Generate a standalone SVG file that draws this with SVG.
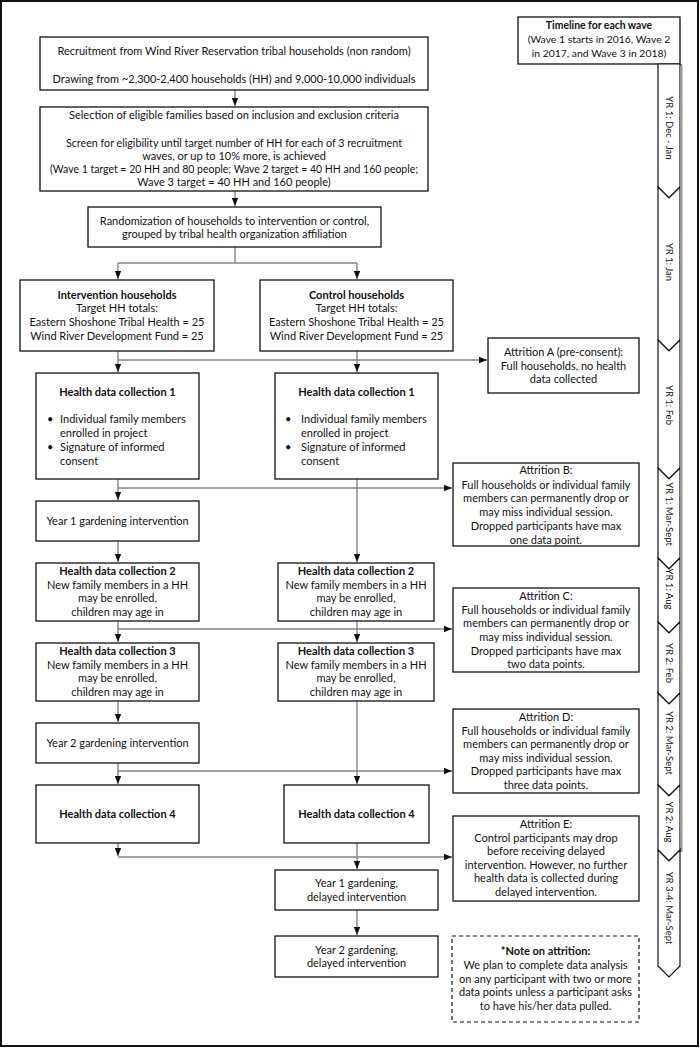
<svg xmlns="http://www.w3.org/2000/svg" width="700" height="1048" viewBox="0 0 700 1048">
<defs>
<style>
text{font-family:Lato,"Liberation Sans",sans-serif;font-size:11px;fill:#111;}
.c{text-anchor:middle;}
.b{font-weight:bold;}
.tl{font-size:10.4px;}
.rot{font-size:9.5px;}
.box{fill:#fff;stroke:#111;stroke-width:1.3;}
.dash{fill:#fff;stroke:#111;stroke-width:1.2;stroke-dasharray:4 3;}
.ln{fill:none;stroke:#858585;stroke-width:1.4;}
.chev{fill:#fff;stroke:#111;stroke-width:1.2;}
</style>
<marker id="ah" markerUnits="userSpaceOnUse" markerWidth="8" markerHeight="8" viewBox="0 0 8 8" refX="8" refY="4" orient="auto">
<path d="M0,0.8 L8,4 L0,7.2 Z" fill="#111"/>
</marker>
</defs>
<rect x="1" y="1" width="697" height="1045" fill="#fff" stroke="#111" stroke-width="2"/>

<g id="connectors">
<path class="ln" d="M235,90 V106" marker-end="url(#ah)"/>
<path class="ln" d="M235,191 V206" marker-end="url(#ah)"/>
<path class="ln" d="M235,247 V263 M118,263 H357"/>
<path class="ln" d="M118,263 V279" marker-end="url(#ah)"/>
<path class="ln" d="M357,263 V279" marker-end="url(#ah)"/>
<path class="ln" d="M118,351 V360"/>
<path class="ln" d="M118,360 H487" marker-end="url(#ah)"/>
<path class="ln" d="M118,360 V372" marker-end="url(#ah)"/>
<path class="ln" d="M357,351 V372" marker-end="url(#ah)"/>
<path class="ln" d="M118,479 V488"/>
<path class="ln" d="M118,488 H452" marker-end="url(#ah)"/>
<path class="ln" d="M118,488 V500" marker-end="url(#ah)"/>
<path class="ln" d="M357,479 V562" marker-end="url(#ah)"/>
<path class="ln" d="M118,541 V562" marker-end="url(#ah)"/>
<path class="ln" d="M118,621 V629"/>
<path class="ln" d="M118,629 H452" marker-end="url(#ah)"/>
<path class="ln" d="M118,629 V642" marker-end="url(#ah)"/>
<path class="ln" d="M357,621 V642" marker-end="url(#ah)"/>
<path class="ln" d="M118,701 V722" marker-end="url(#ah)"/>
<path class="ln" d="M118,763 V771"/>
<path class="ln" d="M118,771 H452" marker-end="url(#ah)"/>
<path class="ln" d="M118,771 V784" marker-end="url(#ah)"/>
<path class="ln" d="M357,701 V784" marker-end="url(#ah)"/>
<path class="ln" d="M118,843 V856" marker-end="url(#ah)"/>
<path class="ln" d="M118,857 H452" marker-end="url(#ah)"/>
<path class="ln" d="M357,843 V869" marker-end="url(#ah)"/>
<path class="ln" d="M357,910 V935" marker-end="url(#ah)"/>
</g>

<g id="recruitment">
<rect class="box" x="40" y="37" width="388" height="53"/>
<text class="c" x="234" y="55">Recruitment from Wind River Reservation tribal households (non random)</text>
<text class="c" x="234" y="83">Drawing from ~2,300-2,400 households (HH) and 9,000-10,000 individuals</text>
</g>

<g id="selection">
<rect class="box" x="40" y="107" width="388" height="84"/>
<text class="c" x="234" y="119">Selection of eligible families based on inclusion and exclusion criteria</text>
<text class="c" x="234" y="147" textLength="336" lengthAdjust="spacingAndGlyphs">Screen for eligibility until target number of HH for each of 3 recruitment</text>
<text class="c" x="234" y="160">waves, or up to 10% more, is achieved</text>
<text class="c" x="234" y="173" textLength="368" lengthAdjust="spacingAndGlyphs">(Wave 1 target = 20 HH and 80 people; Wave 2 target = 40 HH and 160 people;</text>
<text class="c" x="234" y="186">Wave 3 target = 40 HH and 160 people)</text>
</g>

<g id="randomization">
<rect class="box" x="88" y="207" width="293" height="40"/>
<text class="c" x="234.5" y="225">Randomization of households to intervention or control,</text>
<text class="c" x="234.5" y="238">grouped by tribal health organization affiliation</text>
</g>

<g id="intervention-households">
<rect class="box" x="20" y="280" width="194" height="71"/>
<text class="c b" x="117" y="299">Intervention households</text>
<text class="c" x="117" y="312">Target HH totals:</text>
<text class="c" x="117" y="326">Eastern Shoshone Tribal Health = 25</text>
<text class="c" x="117" y="340">Wind River Development Fund = 25</text>
</g>

<g id="control-households">
<rect class="box" x="260" y="280" width="193" height="71"/>
<text class="c b" x="356.5" y="299">Control households</text>
<text class="c" x="356.5" y="312">Target HH totals:</text>
<text class="c" x="356.5" y="326">Eastern Shoshone Tribal Health = 25</text>
<text class="c" x="356.5" y="340">Wind River Development Fund = 25</text>
</g>

<g id="attrition-a">
<rect class="box" x="488" y="338" width="151" height="55"/>
<text class="c" x="563.5" y="356">Attrition A (pre-consent):</text>
<text class="c" x="563.5" y="370">Full households, no health</text>
<text class="c" x="563.5" y="383">data collected</text>
</g>

<g id="int-hdc1">
<rect class="box" x="36" y="373" width="163" height="106"/>
<text class="c b" x="117.5" y="396">Health data collection 1</text>
<text x="47" y="423">•</text>
<text x="60" y="423">Individual family members</text>
<text x="60" y="437">enrolled in project</text>
<text x="47" y="451">•</text>
<text x="60" y="451">Signature of informed</text>
<text x="60" y="465">consent</text>
</g>

<g id="ctl-hdc1">
<rect class="box" x="275" y="373" width="163" height="106"/>
<text class="c b" x="356.5" y="396">Health data collection 1</text>
<text x="285" y="423">•</text>
<text x="301" y="423">Individual family members</text>
<text x="301" y="437">enrolled in project</text>
<text x="285" y="451">•</text>
<text x="301" y="451">Signature of informed</text>
<text x="301" y="465">consent</text>
</g>

<g id="attrition-b">
<rect class="box" x="453" y="463" width="186" height="83"/>
<text class="c" x="546" y="474">Attrition B:</text>
<text class="c" x="546" y="489">Full households or individual family</text>
<text class="c" x="546" y="502">members can permanently drop or</text>
<text class="c" x="546" y="516">may miss individual session.</text>
<text class="c" x="546" y="530">Dropped participants have max</text>
<text class="c" x="546" y="544">one data point.</text>
</g>

<g id="int-garden1">
<rect class="box" x="36" y="501" width="163" height="40"/>
<text class="c" x="117.5" y="525">Year 1 gardening intervention</text>
</g>

<g id="int-hdc2">
<rect class="box" x="36" y="563" width="163" height="58"/>
<text class="c b" x="117.5" y="575">Health data collection 2</text>
<text class="c" x="117.5" y="589">New family members in a HH</text>
<text class="c" x="117.5" y="602">may be enrolled,</text>
<text class="c" x="117.5" y="616">children may age in</text>
</g>

<g id="ctl-hdc2">
<rect class="box" x="278" y="563" width="156" height="58"/>
<text class="c b" x="356" y="575">Health data collection 2</text>
<text class="c" x="356" y="589">New family members in a HH</text>
<text class="c" x="356" y="602">may be enrolled,</text>
<text class="c" x="356" y="616">children may age in</text>
</g>

<g id="attrition-c">
<rect class="box" x="453" y="588" width="186" height="84"/>
<text class="c" x="546" y="600">Attrition C:</text>
<text class="c" x="546" y="614">Full households or individual family</text>
<text class="c" x="546" y="627">members can permanently drop or</text>
<text class="c" x="546" y="641">may miss individual session.</text>
<text class="c" x="546" y="655">Dropped participants have max</text>
<text class="c" x="546" y="668">two data points.</text>
</g>

<g id="int-hdc3">
<rect class="box" x="36" y="643" width="163" height="58"/>
<text class="c b" x="117.5" y="655">Health data collection 3</text>
<text class="c" x="117.5" y="669">New family members in a HH</text>
<text class="c" x="117.5" y="682">may be enrolled,</text>
<text class="c" x="117.5" y="696">children may age in</text>
</g>

<g id="ctl-hdc3">
<rect class="box" x="278" y="643" width="156" height="58"/>
<text class="c b" x="356" y="655">Health data collection 3</text>
<text class="c" x="356" y="669">New family members in a HH</text>
<text class="c" x="356" y="682">may be enrolled,</text>
<text class="c" x="356" y="696">children may age in</text>
</g>

<g id="attrition-d">
<rect class="box" x="453" y="709" width="186" height="84"/>
<text class="c" x="546" y="721">Attrition D:</text>
<text class="c" x="546" y="735">Full households or individual family</text>
<text class="c" x="546" y="748">members can permanently drop or</text>
<text class="c" x="546" y="762">may miss individual session.</text>
<text class="c" x="546" y="775">Dropped participants have max</text>
<text class="c" x="546" y="789">three data points.</text>
</g>

<g id="int-garden2">
<rect class="box" x="36" y="723" width="163" height="40"/>
<text class="c" x="117.5" y="747">Year 2 gardening intervention</text>
</g>

<g id="int-hdc4">
<rect class="box" x="36" y="785" width="163" height="58"/>
<text class="c b" x="117.5" y="818">Health data collection 4</text>
</g>

<g id="ctl-hdc4">
<rect class="box" x="284" y="785" width="145" height="58"/>
<text class="c b" x="356.5" y="818">Health data collection 4</text>
</g>

<g id="attrition-e">
<rect class="box" x="453" y="816" width="186" height="85"/>
<text class="c" x="546" y="828">Attrition E:</text>
<text class="c" x="546" y="842">Control participants may drop</text>
<text class="c" x="546" y="855">before receiving delayed</text>
<text class="c" x="546" y="869">intervention. However, no further</text>
<text class="c" x="546" y="882">health data is collected during</text>
<text class="c" x="546" y="896">delayed intervention.</text>
</g>

<g id="ctl-delayed1">
<rect class="box" x="275" y="870" width="163" height="40"/>
<text class="c" x="356.5" y="887">Year 1 gardening,</text>
<text class="c" x="356.5" y="901">delayed intervention</text>
</g>

<g id="ctl-delayed2">
<rect class="box" x="275" y="936" width="163" height="41"/>
<text class="c" x="356.5" y="954">Year 2 gardening,</text>
<text class="c" x="356.5" y="967">delayed intervention</text>
</g>

<g id="note">
<rect class="dash" x="452" y="936" width="187" height="86"/>
<text class="c b" x="545.5" y="955">*Note on attrition:</text>
<text class="c" x="545.5" y="969">We plan to complete data analysis</text>
<text class="c" x="545.5" y="983">on any participant with two or more</text>
<text class="c" x="545.5" y="996">data points unless a participant asks</text>
<text class="c" x="545.5" y="1010">to have his/her data pulled.</text>
</g>

<g id="timeline">
<rect class="box" x="518" y="17" width="162" height="47"/>
<text class="c b tl" x="599" y="29">Timeline for each wave</text>
<text class="c tl" x="599" y="43">(Wave 1 starts in 2016, Wave 2</text>
<text class="c tl" x="599" y="57">in 2017, and Wave 3 in 2018)</text>
<line x1="681" y1="64" x2="681" y2="852" stroke="#9a9a9a" stroke-width="3"/>
<path class="chev" d="M658,64 L680,64 L680,187 L669,198 L658,187 Z"/>
<path class="chev" d="M658,187 L669,198 L680,187 L680,340 L669,351 L658,340 Z"/>
<path class="chev" d="M658,340 L669,351 L680,340 L680,468 L669,479 L658,468 Z"/>
<path class="chev" d="M658,468 L669,479 L680,468 L680,558 L669,569 L658,558 Z"/>
<path class="chev" d="M658,558 L669,569 L680,558 L680,622 L669,633 L658,622 Z"/>
<path class="chev" d="M658,622 L669,633 L680,622 L680,693 L669,704 L658,693 Z"/>
<path class="chev" d="M658,693 L669,704 L680,693 L680,785 L669,796 L658,785 Z"/>
<path class="chev" d="M658,785 L669,796 L680,785 L680,850 L669,861 L658,850 Z"/>
<path class="chev" d="M658,850 L669,861 L680,850 L680,966 L669,977 L658,966 Z"/>
<line x1="681" y1="66" x2="681" y2="848" stroke="#9a9a9a" stroke-width="2"/>
<g>
<text class="c rot" transform="translate(669,128) rotate(90)" dy="3.3">YR 1: Dec - Jan</text>
<text class="c rot" transform="translate(669,262) rotate(90)" dy="3.3">YR 1: Jan</text>
<text class="c rot" transform="translate(669,405) rotate(90)" dy="3.3">YR 1: Feb</text>
<text class="c rot" transform="translate(669,514) rotate(90)" dy="3.3">YR 1: Mar-Sept</text>
<text class="c rot" transform="translate(669,589) rotate(90)" dy="3.3">YR 1: Aug</text>
<text class="c rot" transform="translate(669,663) rotate(90)" dy="3.3">YR 2: Feb</text>
<text class="c rot" transform="translate(669,743) rotate(90)" dy="3.3">YR 2: Mar-Sept</text>
<text class="c rot" transform="translate(669,822) rotate(90)" dy="3.3">YR 2: Aug</text>
<text class="c rot" transform="translate(669,908) rotate(90)" dy="3.3">YR 3-4: Mar-Sept</text>
</g>
</g>
</svg>
